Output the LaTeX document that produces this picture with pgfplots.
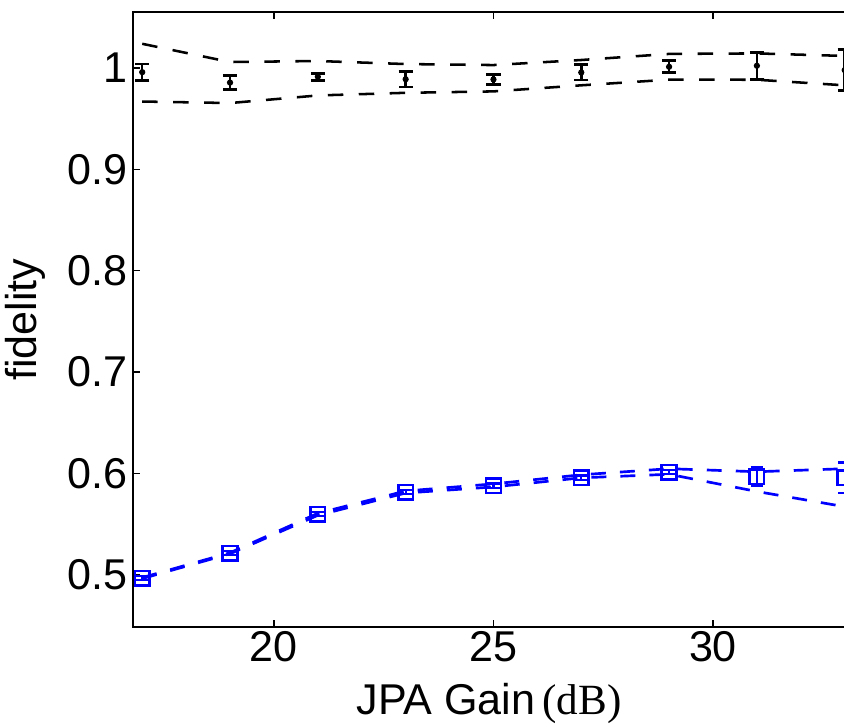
\documentclass[border=0pt]{standalone}
\usepackage{pgfplots}
\pgfplotsset{compat=1.18}
\usepackage{fontspec}
\setmainfont{Liberation Sans}
\newfontfamily\seriffont{Liberation Serif}
\definecolor{mblue}{RGB}{0,0,255}
\begin{document}
\begin{tikzpicture}
\useasboundingbox (-47.3pt,-34.9pt) rectangle (252.7pt,222.5pt);
\clip (-47.3pt,-34.9pt) rectangle (252.3pt,222.5pt);
\begin{axis}[
  anchor=south west, at={(0pt,0pt)},
  scale only axis, width=252.7pt, height=218.1pt,
  xmin=16.795, xmax=33.007, ymin=0.4485, ymax=1.055,
  xtick={20,25,30}, ytick={0.5,0.6,0.7,0.8,0.9,1},
  ytick pos=left,
  /pgf/number format/assume math mode=true,
  tick label style={font=\fontsize{15.3}{18}\selectfont},
  xticklabel style={yshift=2pt},
  yticklabel style={xshift=1.6pt},
  major tick length=2.5pt,
  tick style={black, line width=0.5pt},
  axis line style={line width=0.7pt},
  every axis x label/.style={at={(axis description cs:0.5,0)}, anchor=base, yshift=-31pt, font=\fontsize{15.3}{18}\selectfont},
  every axis y label/.style={at={(axis description cs:-0.152,0.5)}, anchor=center, rotate=90, font=\fontsize{15.3}{18}\selectfont},
  xlabel={JPA Gain\,{\seriffont(dB)}},
  ylabel={fidelity},
  clip=false,
]
% blue bounds
\addplot[mblue, line width=0.95pt, dash pattern=on 5.3pt off 5pt] coordinates {
(17,0.4970) (19,0.5215) (21,0.5605) (23,0.5825) (25,0.5895) (27,0.5985) (29,0.6045) (31,0.6015) (33,0.6045)};
\addplot[mblue, line width=0.95pt, dash pattern=on 5.3pt off 5pt] coordinates {
(17,0.4960) (19,0.5205) (21,0.5585) (23,0.5805) (25,0.5865) (27,0.5955) (29,0.5990) (31,0.5820) (33,0.5670)};
% blue points
\addplot[mblue, only marks, mark=square, mark size=2.6pt, mark options={line width=0.9pt},
  error bars/.cd, y dir=both, y explicit,
  error bar style={line width=0.8pt, mblue},
  error mark options={rotate=90, line width=0.8pt, mark size=2.2pt, mblue}] coordinates {
(17,0.4963) +- (0,0.002)
(19,0.5210) +- (0,0.002)
(21,0.5595) +- (0,0.002)
(23,0.5812) +- (0,0.002)
(25,0.5878) +- (0,0.002)
(27,0.5957) +- (0,0.002)
(29,0.6010) +- (0,0.002)
(31,0.5967) +- (0,0.009)
(33,0.5955) +- (0,0.015)};
% black bounds
\addplot[black, line width=0.9pt, dash pattern=on 5.5pt off 5.5pt] coordinates {
(17,1.0240) (19,1.0060) (21,1.0070) (23,1.0040) (25,1.0030) (27,1.0080) (29,1.0140) (31,1.0145) (33,1.0120)};
\addplot[black, line width=0.9pt, dash pattern=on 5.5pt off 5.5pt] coordinates {
(17,0.9670) (19,0.9655) (21,0.9730) (23,0.9756) (25,0.9770) (27,0.9830) (29,0.9886) (31,0.9885) (33,0.9830)};
% black points
\addplot[black, only marks, mark=*, mark size=0.9pt,
  error bars/.cd, y dir=both, y explicit,
  error bar style={line width=0.9pt, black},
  error mark options={rotate=90, line width=1pt, mark size=2.5pt, black}] coordinates {
(17,0.9960) +- (0,0.0080)
(19,0.9857) +- (0,0.0070)
(21,0.9914) +- (0,0.0036)
(23,0.9890) +- (0,0.0077)
(25,0.9888) +- (0,0.0050)
(27,0.9957) +- (0,0.0075)
(29,1.0013) +- (0,0.0060)
(31,1.0023) +- (0,0.0135)
(33,0.9980) +- (0,0.0200)};
\end{axis}
\end{tikzpicture}
\end{document}
